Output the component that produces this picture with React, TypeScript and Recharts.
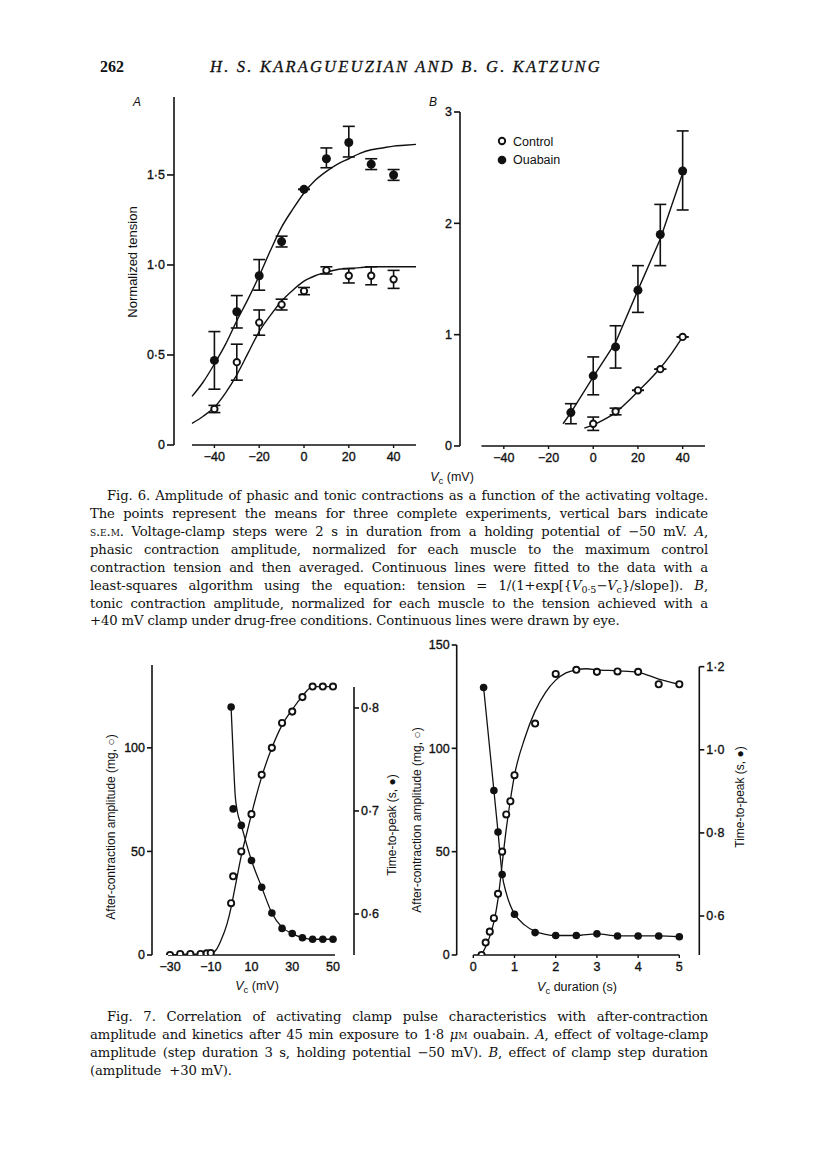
import React from "react";
import { ComposedChart, Line, Scatter, XAxis, YAxis, ErrorBar, ReferenceLine } from "recharts";

// ---------- Fig. 6A: phasic contraction (normalized tension) ----------
const volt6A = [-40, -30, -20, -10, 0, 10, 20, 30, 40];
const ouabain6A = [0.47, 0.74, 0.94, 1.13, 1.42, 1.59, 1.68, 1.56, 1.5];
const ouabain6AErrLo = [0.16, 0.09, 0.08, 0.03, 0, 0.05, 0.08, 0.03, 0.03];
const ouabain6AErrHi = [0.16, 0.09, 0.09, 0.03, 0, 0.06, 0.09, 0.03, 0.03];
const control6A = [0.2, 0.46, 0.68, 0.78, 0.855, 0.97, 0.94, 0.94, 0.92];
const control6AErr = [0.02, 0.1, 0.07, 0.03, 0.02, 0.02, 0.04, 0.05, 0.05];
const fitVolt6A = [-50, -45, -40, -35, -30, -25, -20, -15, -10, -5, 0, 5, 10, 15, 20, 25, 30, 35, 40, 45, 50];
const ouabainFit6A = [0.27, 0.35, 0.45, 0.56, 0.69, 0.81, 0.94, 1.08, 1.21, 1.31, 1.4, 1.47, 1.52, 1.56, 1.59, 1.62, 1.64, 1.65, 1.66, 1.665, 1.67];
const controlFit6A = [0.12, 0.16, 0.21, 0.29, 0.39, 0.51, 0.63, 0.72, 0.8, 0.86, 0.91, 0.94, 0.96, 0.975, 0.98, 0.985, 0.99, 0.99, 0.99, 0.99, 0.99];

// ---------- Fig. 6B: tonic contraction ----------
const voltOuabain6B = [-10, 0, 10, 20, 30, 40];
const ouabain6B = [0.3, 0.63, 0.89, 1.4, 1.9, 2.47];
const ouabain6BErrLo = [0.1, 0.17, 0.19, 0.2, 0.28, 0.35];
const ouabain6BErrHi = [0.08, 0.17, 0.19, 0.22, 0.27, 0.36];
const voltControl6B = [0, 10, 20, 30, 40];
const control6B = [0.2, 0.31, 0.5, 0.69, 0.98];
const control6BErr = [0.06, 0.03, 0, 0, 0];
const lineVoltOuabain6B = [-13.5, -10, 0, 10, 20, 30, 40];
const lineOuabain6B = [0.2, 0.3, 0.62, 0.93, 1.4, 1.86, 2.45];
const lineVoltControl6B = [-4, 0, 5, 10, 15, 20, 25, 30, 35, 40];
const lineControl6B = [0.16, 0.19, 0.24, 0.3, 0.39, 0.49, 0.59, 0.7, 0.83, 0.98];

// ---------- Fig. 7A: clamp amplitude ----------
const ampVolt7A = [-30, -25, -20, -15, -12, -10, 0, 1, 5, 10, 15, 20, 25, 30, 35, 40, 45, 50];
const amp7A = [0, 0.5, 0.5, 0.5, 0.8, 1, 25, 38, 50, 68, 87, 100, 112, 117.5, 124.5, 129.6, 129.6, 129.6];
const ttpVolt7A = [0, 1, 5, 10, 15, 20, 25, 30, 35, 40, 45, 50];
const ttp7A = [0.801, 0.702, 0.686, 0.652, 0.626, 0.601, 0.586, 0.581, 0.577, 0.5755, 0.5755, 0.5755];
const ampFitVolt7A = [-30, -25, -20, -15, -10, -7, -5, -2, 0, 2, 5, 8, 10, 15, 20, 25, 30, 35, 40, 45, 50];
const ampFit7A = [0, 0.3, 0.4, 0.5, 0.8, 3, 7, 15, 23, 33, 48, 60, 68, 86, 100, 111, 118.5, 125, 129.6, 129.6, 129.6];
const ttpFitVolt7A = [0, 1, 2, 3, 5, 10, 15, 20, 25, 30, 35, 40, 45, 50];
const ttpFit7A = [0.8, 0.755, 0.715, 0.7, 0.686, 0.652, 0.626, 0.601, 0.587, 0.581, 0.577, 0.5755, 0.5755, 0.5755];

// ---------- Fig. 7B: clamp duration ----------
const dur7B = [0.2, 0.3, 0.4, 0.5, 0.6, 0.7, 0.8, 0.9, 1.0, 1.5, 2.0, 2.5, 3.0, 3.5, 4.0, 4.5, 5.0];
const amp7B = [0, 6, 11.3, 17.8, 29.6, 50, 68, 74.4, 87, 112, 136, 138, 137, 137.2, 137, 131, 131];
const ttpDur7B = [0.25, 0.5, 0.6, 0.7, 1.0, 1.5, 2.0, 2.5, 3.0, 3.5, 4.0, 4.5, 5.0];
const ttp7B = [1.15, 0.902, 0.802, 0.7, 0.604, 0.56, 0.553, 0.553, 0.557, 0.552, 0.552, 0.552, 0.55];
const ampFitDur7B = [0.2, 0.3, 0.4, 0.5, 0.6, 0.7, 0.8, 0.9, 1.0, 1.25, 1.5, 1.75, 2.0, 2.25, 2.5, 2.75, 3.0, 3.5, 4.0, 4.5, 5.0];
const ampFit7B = [0, 4, 9, 16, 27, 44, 61, 75, 87, 105, 118, 127, 133, 136.5, 138, 138.5, 138, 137.5, 136.8, 133.5, 131];
const ttpFitDur7B = [0.25, 0.5, 0.6, 0.7, 0.8, 0.9, 1.0, 1.25, 1.5, 1.75, 2.0, 2.5, 3.0, 3.5, 4.0, 4.5, 5.0];
const ttpFit7B = [1.15, 0.902, 0.802, 0.7, 0.655, 0.625, 0.605, 0.578, 0.563, 0.556, 0.553, 0.553, 0.557, 0.552, 0.552, 0.552, 0.55];

const INK = "#111";
const sans = "'Liberation Sans', Arial, sans-serif";
const serif = "'DejaVu Serif', 'Liberation Serif', serif";
const tickStyle = { fontSize: 12.5, fill: INK, fontFamily: sans, stroke: INK, strokeWidth: 0.35 };
const axisLineStyle = { stroke: INK, strokeWidth: 1.6 };

const pts = (xs: number[], ys: number[]) => xs.map((x, i) => ({ x, y: ys[i] }));
const ptsErr = (xs: number[], ys: number[], lo: number[], hi: number[]) =>
  xs.map((x, i) => ({ x, y: ys[i], err: [lo[i], hi[i]] }));

const fmtDot = (v: number) => (v === 0 ? "0" : v.toFixed(1).replace(".", "·"));
const fmtMinus = (v: number) => (v < 0 ? `\u2212${Math.abs(v)}` : `${v}`);

const filledDot = (r: number) => (p: any) => <circle cx={p.cx} cy={p.cy} r={r} fill={INK} />;
const openDot = (r: number) => (p: any) => (
  <circle cx={p.cx} cy={p.cy} r={r} fill="#fff" stroke={INK} strokeWidth={1.9} />
);

const X6A: [number, number] = [-58.04, 50];
const X6B: [number, number] = [-59.6, 50];
const X7A: [number, number] = [-38.83, 60.31];
const Y7AR: [number, number] = [0.5602, 0.8417];
const X7B: [number, number] = [-0.403, 5.485];
const Y7BR: [number, number] = [0.5061, 1.2522];

function Fig6A() {
  return (
    <div style={{ position: "absolute", left: 100, top: 80 }}>
      <ComposedChart width={330} height={400} margin={{ top: 17, right: 14, bottom: 5, left: 14 }}>
        <XAxis type="number" dataKey="x" domain={X6A} ticks={[-40, -20, 0, 20, 40]} tickFormatter={fmtMinus}
          axisLine={false} tickLine={{ stroke: INK, strokeWidth: 1.4 }} tickSize={3} tickMargin={4} height={30}
          tick={tickStyle} allowDataOverflow interval={0} />
        <YAxis type="number" domain={[0, 1.933]} ticks={[0, 0.5, 1, 1.5]} tickFormatter={fmtDot} width={60}
          axisLine={axisLineStyle} tickLine={axisLineStyle} tickSize={7} tickMargin={2} tick={tickStyle}
          allowDataOverflow interval={0} />
        <ReferenceLine segment={[{ x: -50, y: 0 }, { x: 50, y: 0 }]} stroke={INK} strokeWidth={1.6} ifOverflow="visible" />
        <Line data={pts(fitVolt6A, ouabainFit6A)} dataKey="y" type="monotone" stroke={INK} strokeWidth={1.4} dot={false} isAnimationActive={false} />
        <Line data={pts(fitVolt6A, controlFit6A)} dataKey="y" type="monotone" stroke={INK} strokeWidth={1.4} dot={false} isAnimationActive={false} />
        <Scatter data={ptsErr(volt6A, ouabain6A, ouabain6AErrLo, ouabain6AErrHi)} dataKey="y" shape={filledDot(4.5)} isAnimationActive={false}>
          <ErrorBar dataKey="err" direction="y" width={6} stroke={INK} strokeWidth={1.6} />
        </Scatter>
        <Scatter data={ptsErr(volt6A, control6A, control6AErr, control6AErr)} dataKey="y" shape={openDot(3.2)} isAnimationActive={false}>
          <ErrorBar dataKey="err" direction="y" width={6} stroke={INK} strokeWidth={1.6} />
        </Scatter>
      </ComposedChart>
    </div>
  );
}

function Fig6B() {
  return (
    <div style={{ position: "absolute", left: 420, top: 90 }}>
      <ComposedChart width={300} height={390} margin={{ top: 22, right: 15, bottom: 4, left: 10 }}>
        <XAxis type="number" dataKey="x" domain={X6B} ticks={[-40, -20, 0, 20, 40]} tickFormatter={fmtMinus}
          axisLine={false} tickLine={{ stroke: INK, strokeWidth: 1.4 }} tickSize={3} tickMargin={4} height={30}
          tick={tickStyle} allowDataOverflow interval={0} />
        <YAxis type="number" domain={[0, 3]} ticks={[0, 1, 2, 3]} width={30}
          axisLine={axisLineStyle} tickLine={axisLineStyle} tickSize={6} tickMargin={2} tick={tickStyle}
          allowDataOverflow interval={0} />
        <ReferenceLine segment={[{ x: -50, y: 0 }, { x: 50, y: 0 }]} stroke={INK} strokeWidth={1.6} ifOverflow="visible" />
        <Line data={pts(lineVoltOuabain6B, lineOuabain6B)} dataKey="y" type="linear" stroke={INK} strokeWidth={1.4} dot={false} isAnimationActive={false} />
        <Line data={pts(lineVoltControl6B, lineControl6B)} dataKey="y" type="monotone" stroke={INK} strokeWidth={1.4} dot={false} isAnimationActive={false} />
        <Scatter data={ptsErr(voltOuabain6B, ouabain6B, ouabain6BErrLo, ouabain6BErrHi)} dataKey="y" shape={filledDot(4.5)} isAnimationActive={false}>
          <ErrorBar dataKey="err" direction="y" width={6} stroke={INK} strokeWidth={1.6} />
        </Scatter>
        <Scatter data={ptsErr(voltControl6B, control6B, control6BErr, control6BErr)} dataKey="y" shape={openDot(3.2)} isAnimationActive={false}>
          <ErrorBar dataKey="err" direction="y" width={6} stroke={INK} strokeWidth={1.6} />
        </Scatter>
      </ComposedChart>
    </div>
  );
}

function Fig7A() {
  return (
    <div style={{ position: "absolute", left: 100, top: 650 }}>
      <ComposedChart width={300} height={340} margin={{ top: 15, right: 6, bottom: 5, left: 10 }}>
        <XAxis type="number" dataKey="x" domain={X7A} ticks={[-30, -10, 10, 30, 50]} tickFormatter={fmtMinus}
          axisLine={false} tickLine={false} tickSize={3} tickMargin={4} height={30}
          tick={tickStyle} allowDataOverflow interval={0} />
        <YAxis yAxisId="left" type="number" domain={[0, 140]} ticks={[0, 50, 100]} width={42}
          axisLine={axisLineStyle} tickLine={axisLineStyle} tickSize={5} tickMargin={2} tick={tickStyle}
          allowDataOverflow interval={0} />
        <YAxis yAxisId="right" orientation="right" type="number" domain={Y7AR} ticks={[0.6, 0.7, 0.8]}
          tickFormatter={fmtDot} width={40} axisLine={false} tickLine={axisLineStyle} tickSize={5} tickMargin={2}
          tick={tickStyle} allowDataOverflow interval={0} />
        <ReferenceLine yAxisId="left" segment={[{ x: -31, y: 0 }, { x: 51, y: 0 }]} stroke={INK} strokeWidth={1.6} ifOverflow="visible" />
        <ReferenceLine yAxisId="right" segment={[{ x: X7A[1], y: Y7AR[0] }, { x: X7A[1], y: 0.8204 }]} stroke={INK} strokeWidth={1.6} ifOverflow="visible" />
        <Line yAxisId="left" data={pts(ampFitVolt7A, ampFit7A)} dataKey="y" type="monotone" stroke={INK} strokeWidth={1.3} dot={false} isAnimationActive={false} />
        <Line yAxisId="right" data={pts(ttpFitVolt7A, ttpFit7A)} dataKey="y" type="monotone" stroke={INK} strokeWidth={1.3} dot={false} isAnimationActive={false} />
        <Scatter yAxisId="right" data={pts(ttpVolt7A, ttp7A)} dataKey="y" shape={filledDot(3.8)} isAnimationActive={false} />
        <Scatter yAxisId="left" data={pts(ampVolt7A, amp7A)} dataKey="y" shape={openDot(3.1)} isAnimationActive={false} />
      </ComposedChart>
    </div>
  );
}

function Fig7B() {
  return (
    <div style={{ position: "absolute", left: 390, top: 630 }}>
      <ComposedChart width={360} height={360} margin={{ top: 15, right: 10.7, bottom: 5, left: 16.7 }}>
        <XAxis type="number" dataKey="x" domain={X7B} ticks={[0, 1, 2, 3, 4, 5]}
          axisLine={false} tickLine={{ stroke: INK, strokeWidth: 1.4 }} tickSize={3} tickMargin={4} height={30}
          tick={tickStyle} allowDataOverflow interval={0} />
        <YAxis yAxisId="left" type="number" domain={[0, 150]} ticks={[0, 50, 100, 150]} width={50}
          axisLine={axisLineStyle} tickLine={axisLineStyle} tickSize={5} tickMargin={2} tick={tickStyle}
          allowDataOverflow interval={0} />
        <YAxis yAxisId="right" orientation="right" type="number" domain={Y7BR} ticks={[0.6, 0.8, 1.0, 1.2]}
          tickFormatter={fmtDot} width={40} axisLine={false} tickLine={axisLineStyle} tickSize={5} tickMargin={2}
          tick={tickStyle} allowDataOverflow interval={0} />
        <ReferenceLine yAxisId="left" segment={[{ x: 0, y: 0 }, { x: 5, y: 0 }]} stroke={INK} strokeWidth={1.6} ifOverflow="visible" />
        <ReferenceLine yAxisId="right" segment={[{ x: X7B[1], y: Y7BR[0] }, { x: X7B[1], y: 1.2 }]} stroke={INK} strokeWidth={1.6} ifOverflow="visible" />
        <Line yAxisId="left" data={pts(ampFitDur7B, ampFit7B)} dataKey="y" type="monotone" stroke={INK} strokeWidth={1.3} dot={false} isAnimationActive={false} />
        <Line yAxisId="right" data={pts(ttpFitDur7B, ttpFit7B)} dataKey="y" type="monotone" stroke={INK} strokeWidth={1.3} dot={false} isAnimationActive={false} />
        <Scatter yAxisId="right" data={pts(ttpDur7B, ttp7B)} dataKey="y" shape={filledDot(3.8)} isAnimationActive={false} />
        <Scatter yAxisId="left" data={pts(dur7B, amp7B)} dataKey="y" shape={openDot(3.1)} isAnimationActive={false} />
      </ComposedChart>
    </div>
  );
}

// text helpers
function Rot({ x, y, size = 12, children }: { x: number; y: number; size?: number; children: React.ReactNode }) {
  return (
    <div style={{ position: "absolute", left: x, top: y, transform: "translate(-50%, -50%) rotate(-90deg)", whiteSpace: "nowrap", fontFamily: sans, fontSize: size, color: INK }}>
      {children}
    </div>
  );
}
function Lbl({ x, y, children, style }: { x: number; y: number; children: React.ReactNode; style?: React.CSSProperties }) {
  return (
    <div style={{ position: "absolute", left: x, top: y, transform: "translate(-50%, -50%)", whiteSpace: "nowrap", fontFamily: sans, fontSize: 12.5, color: INK, ...style }}>
      {children}
    </div>
  );
}
function CapLine({ y, left, last, children }: { y: number; left: number; last?: boolean; children: React.ReactNode }) {
  return (
    <div style={{ position: "absolute", left, top: y - 9, width: 708 - left, height: 18, lineHeight: "18px", fontFamily: serif, fontSize: 13.2, letterSpacing: -0.12, color: INK, textAlign: last ? "left" : "justify", textAlignLast: last ? "left" : "justify" }}>
      {children}
    </div>
  );
}
const sub = (t: string) => <span style={{ fontSize: 9.5, verticalAlign: -3 }}>{t}</span>;
const Vc = () => (<><i>V</i>{sub("c")}</>);

export default function App() {
  return (
    <div style={{ position: "absolute", left: 0, top: 0, width: 816, height: 1160, background: "#fff" }}>
      <div style={{ position: "absolute", left: 100, top: 58, fontFamily: "'Liberation Serif', serif", fontSize: 16, fontWeight: "bold", color: INK }}>262</div>
      <div style={{ position: "absolute", left: 150, width: 512, top: 57, textAlign: "center", fontFamily: "'Liberation Serif', serif", fontSize: 16.5, fontStyle: "italic", letterSpacing: 2.2, color: INK, WebkitTextStroke: "0.3px #111" }}>
        H. S. KARAGUEUZIAN AND B. G. KATZUNG
      </div>

      <Fig6A />
      <Fig6B />
      <Lbl x={137} y={102} style={{ fontStyle: "italic", fontSize: 12 }}>A</Lbl>
      <Lbl x={433} y={102} style={{ fontStyle: "italic", fontSize: 12 }}>B</Lbl>
      <Rot x={132} y={262} size={13}>Normalized tension</Rot>
      <Lbl x={452} y={478}><Vc /> (mV)</Lbl>
      <svg style={{ position: "absolute", left: 496, top: 134 }} width={12} height={34}>
        <circle cx={6} cy={7} r={3.2} fill="#fff" stroke={INK} strokeWidth={1.9} />
        <circle cx={6} cy={26} r={4.3} fill={INK} />
      </svg>
      <div style={{ position: "absolute", left: 513, top: 133, fontFamily: sans, fontSize: 12.5, color: INK, lineHeight: "18px" }}>
        Control<br />Ouabain
      </div>

      <CapLine y={496} left={107}>Fig. 6. Amplitude of phasic and tonic contractions as a function of the activating voltage.</CapLine>
      <CapLine y={514} left={90}>The points represent the means for three complete experiments, vertical bars indicate</CapLine>
      <CapLine y={532} left={90}><span style={{ fontVariant: "small-caps" }}>s.e.m.</span> Voltage-clamp steps were 2 s in duration from a holding potential of {"\u2212"}50 mV. <i>A</i>,</CapLine>
      <CapLine y={550} left={90}>phasic contraction amplitude, normalized for each muscle to the maximum control</CapLine>
      <CapLine y={568} left={90}>contraction tension and then averaged. Continuous lines were fitted to the data with a</CapLine>
      <CapLine y={586} left={90}>least-squares algorithm using the equation: tension = 1/(1+exp[{"{"}<i>V</i>{sub("0·5")}{"\u2212"}<Vc />{"}"}/slope]). <i>B</i>,</CapLine>
      <CapLine y={604} left={90}>tonic contraction amplitude, normalized for each muscle to the tension achieved with a</CapLine>
      <CapLine y={621} left={90} last>+40 mV clamp under drug-free conditions. Continuous lines were drawn by eye.</CapLine>

      <Fig7A />
      <Fig7B />
      <Rot x={111} y={827}>After-contraction amplitude (mg, ○)</Rot>
      <Rot x={392} y={825}>Time-to-peak (s, ●)</Rot>
      <Rot x={417} y={820}>After-contraction amplitude (mg, ○)</Rot>
      <Rot x={740} y={797}>Time-to-peak (s, ●)</Rot>
      <Lbl x={257} y={987}><Vc /> (mV)</Lbl>
      <Lbl x={577} y={988}><Vc /> duration (s)</Lbl>

      <CapLine y={1017} left={107}>Fig. 7. Correlation of activating clamp pulse characteristics with after-contraction</CapLine>
      <CapLine y={1035} left={90}>amplitude and kinetics after 45 min exposure to 1·8 <i>μ</i><span style={{ fontVariant: "small-caps" }}>m</span> ouabain. <i>A</i>, effect of voltage-clamp</CapLine>
      <CapLine y={1053} left={90}>amplitude (step duration 3 s, holding potential {"\u2212"}50 mV). <i>B</i>, effect of clamp step duration</CapLine>
      <CapLine y={1071} left={90} last>(amplitude &nbsp;+30 mV).</CapLine>
    </div>
  );
}
